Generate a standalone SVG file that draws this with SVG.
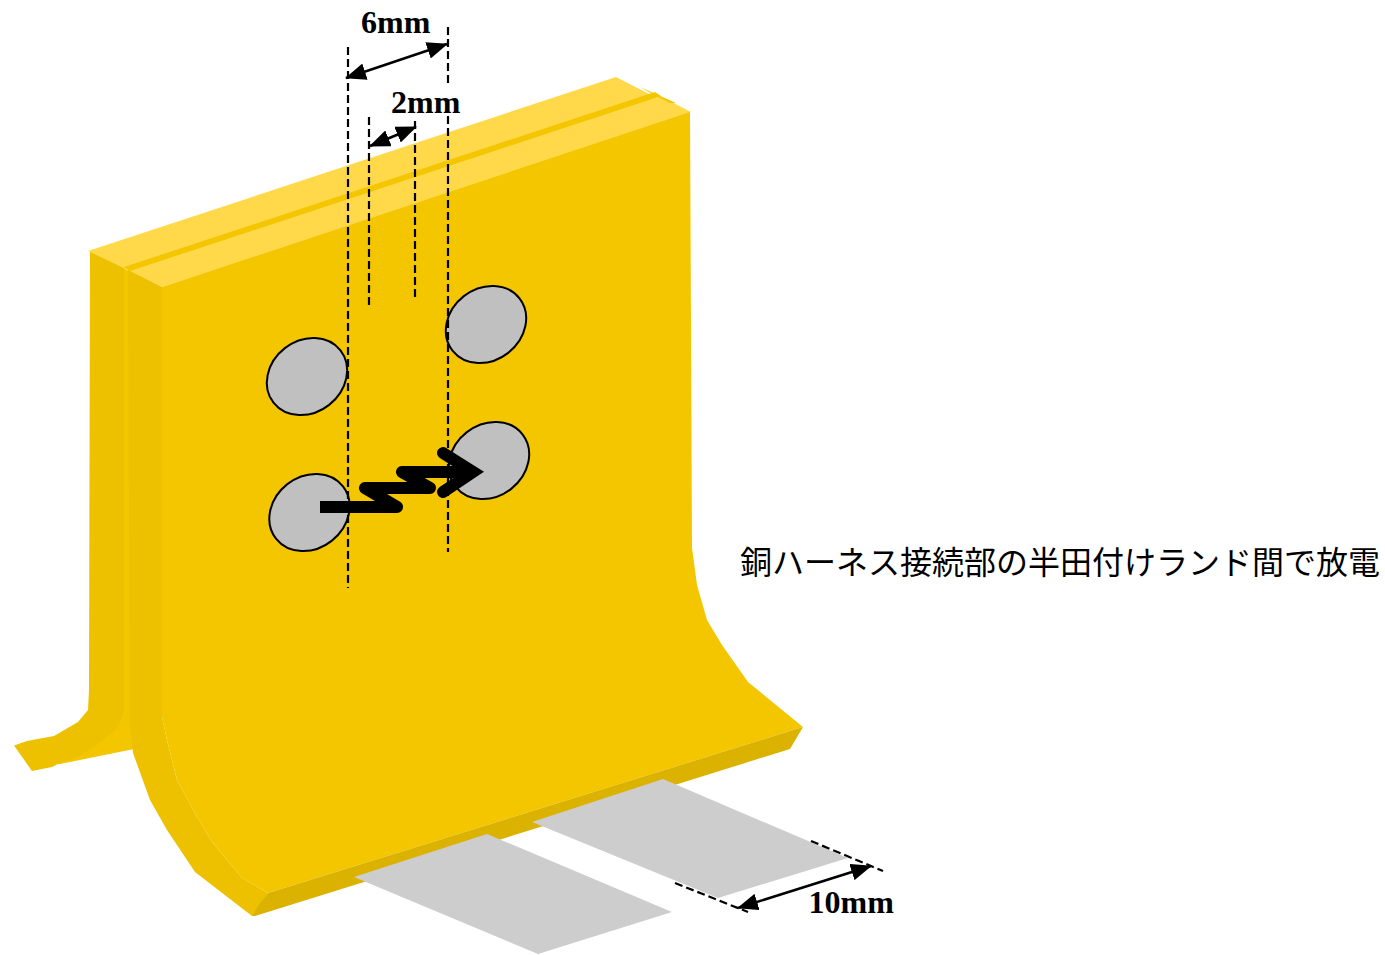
<svg xmlns="http://www.w3.org/2000/svg" width="1385" height="955" viewBox="0 0 1385 955">
<style>
.face{fill:#f3c600}.side{fill:#edc100}.top{fill:#ffd94a}.under{fill:#dcb200}.pad{fill:#cdcdcd}
.land{fill:#c0c0c0;stroke:#000;stroke-width:2}
.dash{fill:none;stroke:#000;stroke-width:2.200;stroke-dasharray:8 4}
.dim{fill:none;stroke:#000;stroke-width:2.500;marker-start:url(#ah);marker-end:url(#ah)}
.lbl{font-family:"Liberation Serif",serif;font-weight:700;font-size:32px;fill:#000}
.cap{font-family:"Noto Sans CJK JP","Noto Sans",sans-serif;font-size:32px;fill:#000}
</style>
<defs><marker id="ah" viewBox="0 0 21 17" refX="20" refY="8.500" markerWidth="21" markerHeight="17" markerUnits="userSpaceOnUse" orient="auto-start-reverse"><path d="M0 0L21 8.500L0 17Z" fill="#000"/></marker></defs>
<g id="rear-plate">
<polygon class="face" points="120,266 133,268 134,749 60,764 55,764 100,720"/>
<polygon class="side" points="90,251 124,266 124,712 117,728 97,745 78,757 60,763 52,767 32,771 14,745.500 27,741 54,736 78,722 88,710 89,690"/>
<polygon class="top" points="88,251 616,77 655,97 130,271"/>
</g>
<g id="front-plate">
<polygon class="top" points="124,269 651,94 662,97 691,112 162,287"/>
<polygon class="face" points="640,87 676,103 670,103 656,96"/>
<polygon class="face" points="124,267 655,92 661,96 130,271"/>
<polygon class="side" points="128,270 162,287 162,717 167,740 177,780 197,817 213,843 242,878 268,893 252,916 195,872 167,830 150,800 133,753 130,723"/>
<polygon class="face" points="162,287 690,112 692,548 697,585 707,620 722,645 748,682 803,727 268,893 242,878 213,843 197,817 177,780 167,740 162,717"/>
<polygon class="under" points="803,727 790,749 255,916 252,916 258,906 268,893"/>
</g>
<g id="pads">
<polygon id="pad-front" class="pad" points="354,877 487,834 672,912 538,954"/>
<polygon id="pad-rear" class="pad" points="532,822 663,779 848,858 718,898"/>
</g>
<g id="lands">
<ellipse id="land-1" class="land" cx="307" cy="376.500" rx="42.500" ry="36" transform="rotate(-38 307 376.500)"/>
<ellipse id="land-2" class="land" cx="486" cy="324.500" rx="42.500" ry="36" transform="rotate(-38 486 324.500)"/>
<ellipse id="land-3" class="land" cx="309.500" cy="512.500" rx="42.500" ry="36" transform="rotate(-38 309.500 512.500)"/>
<ellipse id="land-4" class="land" cx="489" cy="460.500" rx="42.500" ry="36" transform="rotate(-38 489 460.500)"/>
</g>
<g id="connectors">
<path class="dash" d="M348 47V588M448 27V84M448 116V552M369 117V307M415 121V297M811 841L883 871M675 883L748 912"/>
<path class="dim" d="M346 78L447 44"/>
<path class="dim" d="M370 146L416 127"/>
<path class="dim" d="M738 908L871 866"/>
</g>
<g id="spark" fill="none" stroke="#000" stroke-width="12">
<path stroke-linejoin="round" d="M320 507H397L365 488H430L402 472H470"/>
<path stroke-linecap="round" stroke-linejoin="miter" stroke-miterlimit="6" d="M443 453L473 472L443 492"/>
</g>
<g id="labels">
<text class="lbl" x="361" y="33">6mm</text>
<text class="lbl" x="391" y="113">2mm</text>
<text class="lbl" x="808.500" y="913">10mm</text>
<text class="cap" x="740" y="574">銅ハーネス接続部の半田付けランド間で放電</text>
</g>
</svg>
